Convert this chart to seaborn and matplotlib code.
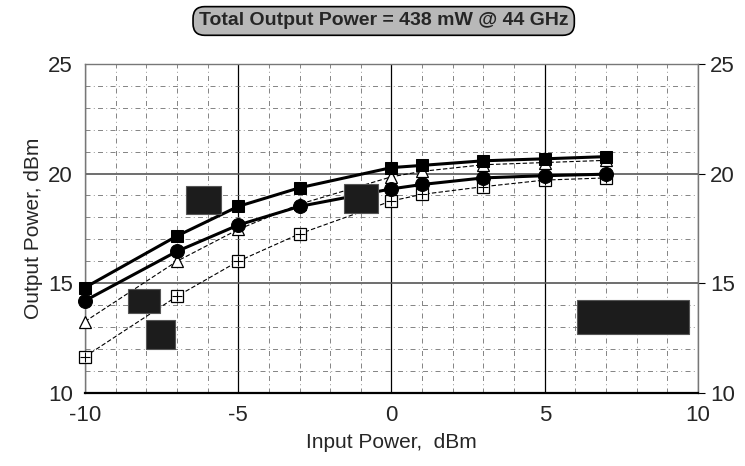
import numpy as np
import pandas as pd
import matplotlib

matplotlib.use("Agg")
import matplotlib.pyplot as plt
from matplotlib.patches import Rectangle
from matplotlib.ticker import MultipleLocator
import seaborn as sns

# input power points (dBm)
input_power = [-10, -7, -5, -3, 0, 1, 3, 5, 7]

# output power per curve (dBm)
out_sq_filled = [14.8, 17.15, 18.5, 19.35, 20.27, 20.37, 20.58, 20.67, 20.77]
out_circle = [14.2, 16.45, 17.65, 18.5, 19.3, 19.5, 19.8, 19.9, 19.97]
out_triangle = [13.25, 16.0, 17.45, 18.6, 19.85, 20.1, 20.4, 20.5, 20.6]
out_sq_open = [11.65, 14.4, 16.0, 17.25, 18.75, 19.05, 19.4, 19.7, 19.8]

title_text = "Total Output Power = 438 mW @ 44 GHz"

# redacted label boxes (x0, y0, width, height) in data units
label_boxes = [
    (-6.7, 18.15, 1.15, 1.3),
    (-8.6, 13.65, 1.05, 1.1),
    (-8.0, 12.0, 0.95, 1.3),
    (-1.55, 18.2, 1.1, 1.3),
    (6.05, 12.7, 3.65, 1.55),
]

sns.set_style("white")
plt.rcParams["font.family"] = ["Liberation Sans", "DejaVu Sans"]
plt.rcParams["axes.unicode_minus"] = False

fig = plt.figure(figsize=(7.45, 4.66), dpi=100)
ax = fig.add_axes([0.114, 0.157, 0.823, 0.706])

df = pd.DataFrame({
    "x": input_power,
    "sq": out_sq_filled,
    "ci": out_circle,
    "tr": out_triangle,
    "op": out_sq_open,
})

# thin dashed curves first
sns.lineplot(data=df, x="x", y="tr", ax=ax, color="black", lw=0.8,
             linestyle=(0, (4, 2)), marker="^", markersize=9,
             markerfacecolor="white", markeredgecolor="black",
             markeredgewidth=0.9, zorder=3)
sns.lineplot(data=df, x="x", y="op", ax=ax, color="black", lw=0.8,
             linestyle=(0, (4, 2)), marker="s", markersize=8,
             markerfacecolor="white", markeredgecolor="black",
             markeredgewidth=0.9, zorder=3)
ax.scatter(df["x"], df["op"], marker="+", s=60, color="black",
           linewidths=0.8, zorder=4, clip_on=False)

# thick solid curves
sns.lineplot(data=df, x="x", y="ci", ax=ax, color="black", lw=2.2,
             marker="o", markersize=10, markerfacecolor="black",
             markeredgecolor="black", zorder=5)
sns.lineplot(data=df, x="x", y="sq", ax=ax, color="black", lw=2.2,
             marker="s", markersize=8, markerfacecolor="black",
             markeredgecolor="black", zorder=6)

for line in ax.lines:
    line.set_clip_on(False)

for x0, y0, w, h in label_boxes:
    ax.add_patch(Rectangle((x0, y0), w, h, facecolor="#1c1c1c",
                           edgecolor="#555555", lw=0.8, zorder=7))

ax.set_xlim(-10, 10)
ax.set_ylim(10, 25)
ax.xaxis.set_major_locator(MultipleLocator(5))
ax.yaxis.set_major_locator(MultipleLocator(5))
ax.xaxis.set_minor_locator(MultipleLocator(1))
ax.yaxis.set_minor_locator(MultipleLocator(1))

ax.grid(which="major", axis="x", color="black", lw=0.9)
ax.grid(which="major", axis="y", color="#555555", lw=1.2)
ax.grid(which="minor", color="#707070", lw=0.6, linestyle=(0, (6, 4, 1, 4)))

for side in ["left", "top", "right"]:
    ax.spines[side].set_color("#777777")
    ax.spines[side].set_linewidth(1.0)
ax.spines["bottom"].set_color("black")
ax.spines["bottom"].set_linewidth(1.6)

ax.tick_params(axis="both", which="major", labelsize=16, length=5,
               direction="out", color="black")
ax.tick_params(axis="y", which="major", right=True, labelright=True)
ax.tick_params(which="minor", length=0)

ax.set_xlabel("Input Power,  dBm", fontsize=15, labelpad=5)
ax.set_ylabel("Output Power, dBm", fontsize=15, labelpad=4)

fig.text(0.515, 0.955, title_text, ha="center", va="center",
         fontsize=14, fontweight="bold",
         bbox=dict(boxstyle="round,pad=0.3,rounding_size=0.6",
                   facecolor="#b8b8b8", edgecolor="black", lw=1.2))

fig.savefig("out.png", dpi=100)
